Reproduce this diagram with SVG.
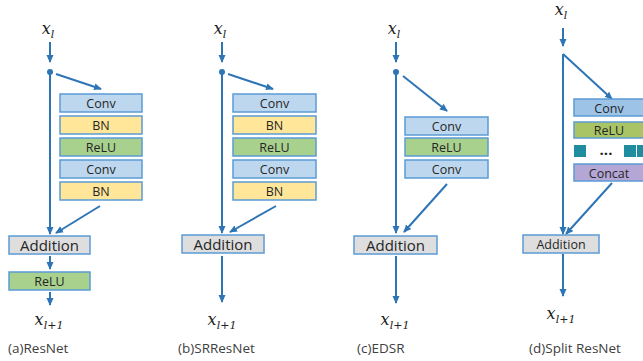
<svg xmlns="http://www.w3.org/2000/svg" width="643" height="361" viewBox="0 0 643 361">
<defs>
<marker id="ah" markerWidth="8" markerHeight="8" refX="7" refY="4" orient="auto" markerUnits="userSpaceOnUse">
<path d="M0,0.5 L8,4 L0,7.5 Z" fill="#2e75b6"/>
</marker>
<style>
.ln{stroke:#2e75b6;stroke-width:2;fill:none}
.ar{stroke:#2e75b6;stroke-width:2;fill:none;marker-end:url(#ah)}
.box{stroke:#5b9bd5;stroke-width:1.5}
.conv{fill:#bdd7ee}
.bn{fill:#ffe699}
.relu{fill:#a9d18e}
.add{fill:#dedede}
.t{font-family:"Open Sans","DejaVu Sans",sans-serif;font-size:12.5px;fill:#262626;text-anchor:middle;dominant-baseline:central}
.ta{font-family:"Open Sans","DejaVu Sans",sans-serif;font-size:15px;fill:#262626;text-anchor:middle;dominant-baseline:central}
.x{font-family:"DejaVu Serif","Liberation Serif",serif;font-style:italic;font-size:16px;fill:#222;text-anchor:middle}
.s{font-size:11px}
.cap{font-family:"Open Sans","DejaVu Sans",sans-serif;font-size:13.5px;fill:#404040}
</style>
</defs>

<g id="connectors">
<!-- (a) -->
<line class="ar" x1="50" y1="42" x2="50" y2="62"/>
<circle cx="50" cy="72" r="3" fill="#2e75b6"/>
<line class="ar" x1="50" y1="72" x2="50" y2="234"/>
<line class="ar" x1="56" y1="74" x2="101" y2="89"/>
<line class="ar" x1="100" y1="206" x2="56" y2="233"/>
<line class="ar" x1="50" y1="256" x2="50" y2="269"/>
<line class="ar" x1="50" y1="292" x2="50" y2="305"/>
<!-- (b) -->
<line class="ar" x1="222" y1="42" x2="222" y2="62"/>
<circle cx="222" cy="72" r="3" fill="#2e75b6"/>
<line class="ar" x1="222" y1="72" x2="222" y2="233"/>
<line class="ar" x1="228" y1="74" x2="273" y2="89"/>
<line class="ar" x1="276" y1="206" x2="230" y2="232"/>
<line class="ar" x1="222" y1="256" x2="222" y2="302"/>
<!-- (c) -->
<line class="ar" x1="396" y1="42" x2="396" y2="62"/>
<circle cx="396" cy="72" r="3" fill="#2e75b6"/>
<line class="ar" x1="396" y1="72" x2="396" y2="233"/>
<line class="ar" x1="403" y1="76" x2="447" y2="111"/>
<line class="ar" x1="447" y1="184" x2="404" y2="232"/>
<line class="ar" x1="396" y1="256" x2="396" y2="303"/>
<!-- (d) -->
<line class="ar" x1="563" y1="28" x2="563" y2="46"/>
<line class="ln" x1="563" y1="54" x2="563" y2="226"/>
<line class="ar" x1="563" y1="226" x2="563" y2="234"/>
<line class="ar" x1="563" y1="54" x2="612" y2="99"/>
<line class="ar" x1="612" y1="183" x2="566" y2="234"/>
<line class="ar" x1="563" y1="254" x2="563" y2="296"/>
</g>

<g id="xl_a"><text class="x" x="48" y="34">x<tspan class="s" dy="4">l</tspan></text></g>
<g id="xl_b"><text class="x" x="220" y="34">x<tspan class="s" dy="4">l</tspan></text></g>
<g id="xl_c"><text class="x" x="394" y="34">x<tspan class="s" dy="4">l</tspan></text></g>
<g id="xl_d"><text class="x" x="561" y="15">x<tspan class="s" dy="4">l</tspan></text></g>

<!-- (a) nodes -->
<g id="a_conv1"><rect class="box conv" x="60" y="94" width="82" height="18"/><text class="t" x="101" y="103">Conv</text></g>
<g id="a_bn1"><rect class="box bn" x="60" y="116" width="82" height="18"/><text class="t" x="101" y="125">BN</text></g>
<g id="a_relu1"><rect class="box relu" x="60" y="138" width="82" height="18"/><text class="t" x="101" y="147">ReLU</text></g>
<g id="a_conv2"><rect class="box conv" x="60" y="160" width="82" height="18"/><text class="t" x="101" y="169">Conv</text></g>
<g id="a_bn2"><rect class="box bn" x="60" y="182" width="82" height="18"/><text class="t" x="101" y="191">BN</text></g>
<g id="a_add"><rect class="box add" x="9" y="236" width="81" height="18"/><text class="ta" x="49.5" y="245">Addition</text></g>
<g id="a_relu2"><rect class="box relu" x="9" y="272" width="81" height="18"/><text class="t" x="49.5" y="281">ReLU</text></g>
<g id="xo_a"><text class="x" x="49" y="325">x<tspan class="s" dy="4">l+1</tspan></text></g>
<g id="cap_a"><text class="cap" x="8" y="353">(a)ResNet</text></g>

<!-- (b) nodes -->
<g id="b_conv1"><rect class="box conv" x="233" y="94" width="83" height="18"/><text class="t" x="274.5" y="103">Conv</text></g>
<g id="b_bn1"><rect class="box bn" x="233" y="116" width="83" height="18"/><text class="t" x="274.5" y="125">BN</text></g>
<g id="b_relu1"><rect class="box relu" x="233" y="138" width="83" height="18"/><text class="t" x="274.5" y="147">ReLU</text></g>
<g id="b_conv2"><rect class="box conv" x="233" y="160" width="83" height="18"/><text class="t" x="274.5" y="169">Conv</text></g>
<g id="b_bn2"><rect class="box bn" x="233" y="182" width="83" height="18"/><text class="t" x="274.5" y="191">BN</text></g>
<g id="b_add"><rect class="box add" x="182" y="235" width="82" height="18"/><text class="ta" x="223" y="244">Addition</text></g>
<g id="xo_b"><text class="x" x="222" y="325">x<tspan class="s" dy="4">l+1</tspan></text></g>
<g id="cap_b"><text class="cap" x="178" y="353">(b)SRResNet</text></g>

<!-- (c) nodes -->
<g id="c_conv1"><rect class="box conv" x="405" y="117" width="83" height="18"/><text class="t" x="446.5" y="126">Conv</text></g>
<g id="c_relu"><rect class="box relu" x="405" y="138" width="83" height="18"/><text class="t" x="446.5" y="147">ReLU</text></g>
<g id="c_conv2"><rect class="box conv" x="405" y="160" width="83" height="18"/><text class="t" x="446.5" y="169">Conv</text></g>
<g id="c_add"><rect class="box add" x="354" y="236" width="83" height="18"/><text class="ta" x="395.5" y="245">Addition</text></g>
<g id="xo_c"><text class="x" x="395" y="325">x<tspan class="s" dy="4">l+1</tspan></text></g>
<g id="cap_c"><text class="cap" x="357" y="353">(c)EDSR</text></g>

<!-- (d) nodes -->
<g id="d_conv"><rect class="box" fill="#9dc3e6" x="574" y="99" width="72" height="17"/><text class="t" x="609" y="108">Conv</text></g>
<g id="d_relu"><rect class="box" fill="#a9c465" stroke="#7f9f3f" x="574" y="122" width="72" height="16"/><text class="t" x="609" y="130">ReLU</text></g>
<g id="d_split">
<rect x="574" y="145" width="12" height="12" fill="#1f8ca0"/>
<text class="t" x="606" y="149" style="font-size:15px;font-weight:bold">...</text>
<rect x="624" y="145" width="12" height="12" fill="#1f8ca0"/>
<rect x="637" y="145" width="8" height="12" fill="#1f8ca0"/>
</g>
<g id="d_concat"><rect class="box" fill="#b4a7d6" stroke="#8e7cc3" x="574" y="164" width="72" height="17"/><text class="t" x="609" y="173">Concat</text></g>
<g id="d_add"><rect class="box add" x="523" y="235" width="76" height="18"/><text class="t" x="561" y="244">Addition</text></g>
<g id="xo_d"><text class="x" x="561" y="319">x<tspan class="s" dy="4">l+1</tspan></text></g>
<g id="cap_d"><text class="cap" x="529" y="353">(d)Split ResNet</text></g>
</svg>
